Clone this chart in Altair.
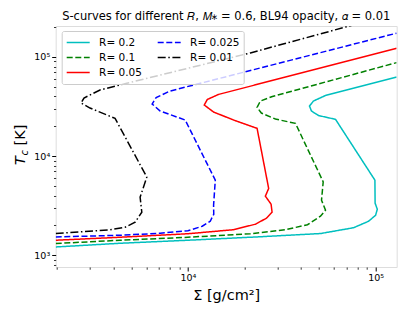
import altair as alt
import pandas as pd

# ---------------- data ----------------
LABELS = ["R= 0.2", "R= 0.1", "R= 0.05", "R= 0.025", "R= 0.01"]

SIGMA_R020 = [1975, 4350, 10000, 24320, 50850, 76290, 91760, 100000, 102100, 99380,
              99150, 61150, 49630, 45530, 44420, 46670, 54080, 129300]
TC_R020 = [1213, 1322, 1418, 1538, 1657, 1896, 2205, 2535, 2915, 3352,
           5722, 23480, 25650, 28480, 32000, 35940, 40840, 62810]

SIGMA_R010 = [1975, 4350, 10000, 21510, 33070, 43350, 50850, 54080, 51500, 52570,
              37410, 29250, 24620, 23360, 24320, 28190, 129300]
TC_R010 = [1313, 1418, 1520, 1649, 1810, 2033, 2476, 2848, 3594, 5500,
           21390, 23640, 27190, 31030, 35940, 39900, 87590]

SIGMA_R005 = [1975, 4350, 10000, 17450, 22880, 26190, 28080, 27740, 25860, 26930,
              23360, 17520, 13700, 12220, 12680, 14520, 129300]
TC_R005 = [1418, 1520, 1649, 1810, 2057, 2364, 2719, 3275, 3945, 4718,
           19050, 23100, 27830, 32750, 37210, 41800, 122400]

SIGMA_R0025 = [1975, 4350, 7114, 10000, 11920, 13150, 13730, 13700, 13990, 9674,
               7114, 6447, 6773, 8045, 129300]
TC_R0025 = [1530, 1592, 1668, 1768, 1963, 2205, 2595, 3200, 5722, 23100,
            28480, 33520, 38980, 45350, 173500]

SIGMA_R001 = [1975, 3847, 4626, 5231, 5680, 5563, 6040, 4091, 3009, 2694,
              2794, 3402, 4724, 21510, 70630, 129300]
TC_R001 = [1657, 1810, 1918, 2154, 2719, 3854, 6136, 24030, 30520, 34310,
           38540, 46420, 54240, 109700, 202400, 278300]

X_MAJOR = [10000, 100000]
X_MINOR = [2000, 3000, 4000, 5000, 6000, 7000, 8000, 9000,
           20000, 30000, 40000, 50000, 60000, 70000, 80000, 90000]
Y_MAJOR = [1000, 10000, 100000]
Y_MINOR = [800, 900, 2000, 3000, 4000, 5000, 6000, 7000, 8000, 9000,
           20000, 30000, 40000, 50000, 60000, 70000, 80000, 90000, 200000]

TITLE = "S-curves for different 𝑅, 𝑀⁎ = 0.6, BL94 opacity, 𝛼 = 0.01"

COLORS = ["#00bfbf", "#008000", "#ff0000", "#0000ff", "#000000"]
DASHES = [[1, 0], [6, 2.6], [1, 0], [6, 2.6], [8, 2.6, 1.5, 2.6]]

recs = []
for lab, sig, tc in zip(LABELS,
                        [SIGMA_R020, SIGMA_R010, SIGMA_R005, SIGMA_R0025, SIGMA_R001],
                        [TC_R020, TC_R010, TC_R005, TC_R0025, TC_R001]):
    for i, (s, t) in enumerate(zip(sig, tc)):
        recs.append({"curve": lab, "idx": i, "sigma": s, "tc": t})
df = pd.DataFrame(recs)

FONT = "DejaVu Sans"
W, H = 341, 241

x_scale = alt.Scale(type="log", domain=[1975, 129500], nice=False)
y_scale = alt.Scale(type="log", domain=[762, 205000], nice=False)

legend = alt.Legend(
    title=None, orient="none", legendX=6, legendY=5, columns=2,
    clipHeight=15, rowPadding=0, columnPadding=14, padding=4,
    symbolType="stroke", symbolSize=529, symbolStrokeWidth=1.5,
    labelFontSize=10.5, labelFont=FONT, labelColor="black", labelOffset=8.4,
    fillColor="rgba(255,255,255,0.8)", strokeColor="#cccccc", cornerRadius=2,
)

lines = alt.Chart(df).mark_line(strokeWidth=1.5, clip=True).encode(
    x=alt.X("sigma:Q", scale=x_scale, axis=alt.Axis(
        values=X_MAJOR, orient="bottom",
        labelExpr="datum.value == 10000 ? '10⁴' : '10⁵'",
        tickSize=4, tickColor="black", tickWidth=1, domain=False, grid=False,
        labelFontSize=9.5, labelFont=FONT, labelColor="black", labelPadding=2,
        labelFlush=False,
        title="Σ [g/cm²]", titleFontSize=14.5, titleFont=FONT,
        titleFontWeight="normal", titleColor="black", titleY=33,
        titleBaseline="alphabetic")),
    y=alt.Y("tc:Q", scale=y_scale, axis=alt.Axis(
        values=Y_MAJOR, orient="left",
        labelExpr="datum.value == 1000 ? '10³' : datum.value == 10000 ? '10⁴' : '10⁵'",
        tickSize=4, tickColor="black", tickWidth=1, domain=False, grid=False,
        labelFontSize=9.5, labelFont=FONT, labelColor="black", labelPadding=2,
        labelFlush=False, title=None)),
    color=alt.Color("curve:N", scale=alt.Scale(domain=LABELS, range=COLORS),
                    legend=legend),
    strokeDash=alt.StrokeDash("curve:N", scale=alt.Scale(domain=LABELS, range=DASHES),
                              legend=legend),
    order="idx:Q",
)

minor = alt.Chart(df).mark_point(opacity=0).encode(
    x=alt.X("sigma:Q", scale=x_scale, axis=alt.Axis(
        values=X_MINOR, orient="bottom", labels=False, tickSize=2.2,
        tickColor="black", tickWidth=0.8, domain=False, grid=False, title=None)),
    y=alt.Y("tc:Q", scale=y_scale, axis=alt.Axis(
        values=Y_MINOR, orient="left", labels=False, tickSize=2.2,
        tickColor="black", tickWidth=0.8, domain=False, grid=False, title=None)),
)

one = pd.DataFrame({"k": [0]})
ytitle_T = alt.Chart(one).mark_text(
    text="T", font=FONT, fontSize=14.5, fontStyle="italic", angle=270,
    align="left", baseline="alphabetic", color="black").encode(
    x=alt.value(-30.5), y=alt.value(139))
ytitle_c = alt.Chart(one).mark_text(
    text="c", font=FONT, fontSize=10, fontStyle="italic", angle=270,
    align="left", baseline="alphabetic", color="black").encode(
    x=alt.value(-27.5), y=alt.value(129.5))
ytitle_K = alt.Chart(one).mark_text(
    text="[K]", font=FONT, fontSize=14.5, angle=270,
    align="left", baseline="alphabetic", color="black").encode(
    x=alt.value(-30.5), y=alt.value(119.5))
title = alt.Chart(one).mark_text(
    text=TITLE, font=FONT, fontSize=11.5, align="center",
    baseline="alphabetic", color="black").encode(
    x=alt.value(W / 2), y=alt.value(-6))

chart = alt.layer(lines, minor, ytitle_T, ytitle_c, ytitle_K, title).resolve_axis(
    x="independent", y="independent"
).properties(
    width=W, height=H,
    autosize=alt.AutoSizeParams(type="none"),
    padding={"left": 47.7, "top": 18, "right": 2, "bottom": 44},
).configure_view(stroke="black", strokeWidth=1).configure(background="white")

chart.save("out.html", embed_options={"renderer": "svg", "actions": False})
